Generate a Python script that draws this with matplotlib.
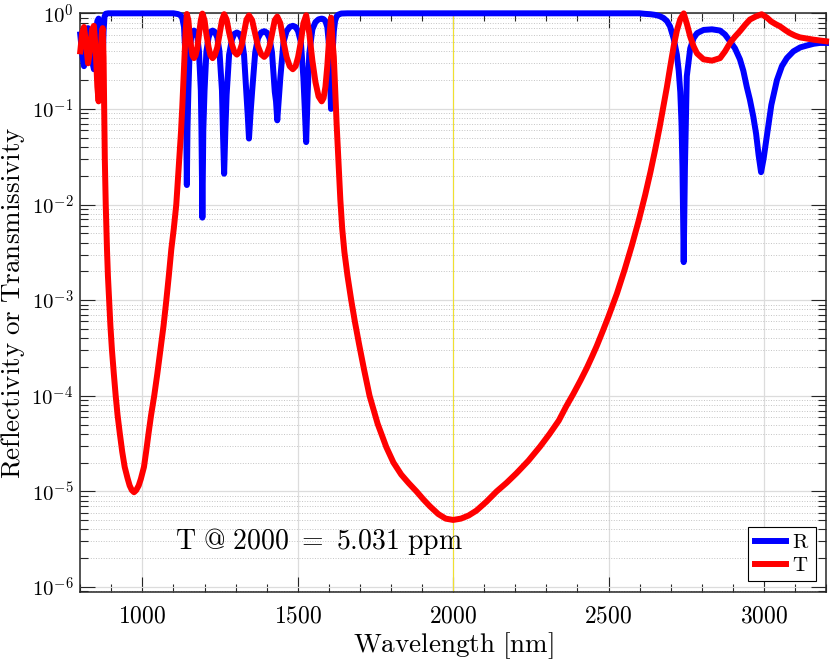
import math
import matplotlib
matplotlib.use("Agg")
import matplotlib.pyplot as plt
from matplotlib.ticker import FixedLocator, FuncFormatter, LogLocator, MultipleLocator, NullFormatter

plt.rcParams['mathtext.fontset'] = 'cm'
plt.rcParams['font.family'] = ['DejaVu Serif']

# transmissivity (wavelength in nm)
t_nm = [800, 806, 812, 818, 825, 831, 838, 844, 850, 855, 859, 864, 869, 872, 875, 877,
        879, 882, 886, 889, 893, 897, 902, 908, 914, 920, 927, 935, 943, 952, 959, 966, 973,
        980, 988, 995, 1005, 1012, 1020, 1028, 1038, 1048, 1058, 1068, 1077, 1085, 1093, 1101,
        1109, 1114, 1119, 1124, 1128, 1134, 1139, 1143,
        1148, 1152, 1157, 1161, 1166, 1171, 1177, 1182, 1188, 1193,
        1200, 1206, 1213, 1219, 1226, 1233, 1241, 1248, 1256, 1263,
        1271, 1279, 1288, 1296, 1304, 1312, 1320, 1327, 1335, 1343,
        1353, 1363, 1372, 1382, 1392, 1400, 1409, 1417, 1426, 1434,
        1444, 1454, 1464, 1474, 1484, 1493, 1501, 1510, 1518, 1527,
        1537, 1547, 1557, 1567, 1577, 1583, 1589, 1595, 1601, 1607,
        1612, 1616, 1620, 1625, 1630, 1637, 1643, 1650, 1660, 1672, 1684, 1697, 1713, 1731, 1757,
        1785, 1808, 1833, 1857, 1882, 1905, 1925, 1952, 1976, 2000, 2025, 2050, 2075, 2107,
        2140, 2172, 2204, 2242, 2280, 2310, 2340, 2364, 2387, 2410, 2430, 2447, 2462, 2482,
        2500, 2527, 2552, 2575, 2597, 2618, 2635, 2650, 2664, 2677, 2688, 2698, 2710, 2720,
        2731, 2742, 2752, 2763, 2774, 2785, 2806, 2833, 2859, 2875, 2891, 2907, 2923, 2940,
        2955, 2975, 2993, 3010, 3024, 3038, 3052, 3068, 3084, 3100, 3116, 3138, 3160, 3180, 3200]
t_val = [0.40, 0.62, 0.72, 0.50, 0.30, 0.40, 0.68, 0.74, 0.40, 0.17, 0.12, 0.25, 0.60, 0.70, 0.35, 0.10,
         0.03, 0.01, 3.4e-3, 1.8e-3, 1e-3, 5.4e-4, 3e-4, 1.7e-4, 1e-4, 6.3e-5, 4.1e-5, 2.6e-5, 1.8e-5, 1.38e-5, 1.15e-5, 1.03e-5, 9.8e-6,
         1.03e-5, 1.15e-5, 1.35e-5, 1.8e-5, 2.6e-5, 4.1e-5, 6.3e-5, 1e-4, 1.7e-4, 3e-4, 5.4e-4, 1e-3, 1.8e-3, 3.4e-3, 5.6e-3,
         0.01, 0.018, 0.032, 0.056, 0.10, 0.28, 0.63, 0.984,
         0.844, 0.599, 0.441, 0.363, 0.34, 0.363, 0.441, 0.599, 0.844, 0.993,
         0.844, 0.599, 0.441, 0.363, 0.34, 0.363, 0.441, 0.599, 0.844, 0.979,
         0.860, 0.630, 0.473, 0.394, 0.37, 0.394, 0.473, 0.630, 0.860, 0.951,
         0.849, 0.609, 0.451, 0.373, 0.35, 0.373, 0.451, 0.609, 0.849, 0.924,
         0.786, 0.504, 0.349, 0.280, 0.26, 0.280, 0.349, 0.504, 0.786, 0.955,
         0.62, 0.32, 0.19, 0.135, 0.12, 0.13, 0.17, 0.28, 0.55, 0.90,
         0.50, 0.35, 0.17, 0.07, 0.033, 0.0112, 5.6e-3, 3.2e-3, 1.8e-3, 1e-3, 5.9e-4, 3.5e-4, 1.9e-4, 1e-4, 5.1e-5,
         2.9e-5, 2e-5, 1.5e-5, 1.22e-5, 1e-5, 8.2e-6, 7.0e-6, 5.8e-6, 5.19e-6, 5.03e-6, 5.19e-6, 5.6e-6, 6.3e-6, 7.8e-6,
         1e-5, 1.23e-5, 1.55e-5, 2.09e-5, 2.95e-5, 3.98e-5, 5.5e-5, 7.76e-5, 1.05e-4, 1.45e-4, 1.95e-4, 2.57e-4, 3.31e-4, 4.79e-4,
         6.76e-4, 1.17e-3, 2.09e-3, 3.72e-3, 6.76e-3, 0.0126, 0.0219, 0.0372, 0.063, 0.107, 0.17, 0.269, 0.457, 0.66,
         0.87, 0.9975, 0.78, 0.57, 0.45, 0.38, 0.33, 0.32, 0.34, 0.40, 0.49, 0.57, 0.65, 0.76,
         0.86, 0.93, 0.978, 0.90, 0.82, 0.77, 0.73, 0.67, 0.62, 0.585, 0.56, 0.545, 0.53, 0.52, 0.51]

# reflectivity
r_nm = [800, 806, 812, 818, 825, 831, 838, 844, 850, 855, 859, 864, 869, 872, 875, 878, 882, 890,
        1000, 1100, 1114, 1119, 1124, 1128, 1134, 1137, 1140, 1143,
        1145, 1148, 1152, 1157, 1161, 1166, 1171, 1177, 1182, 1188, 1190, 1193,
        1196, 1200, 1206, 1213, 1219, 1226, 1233, 1241, 1248, 1256, 1259, 1263,
        1267, 1271, 1279, 1288, 1296, 1304, 1312, 1320, 1327, 1335, 1339, 1343,
        1348, 1353, 1363, 1372, 1382, 1392, 1400, 1409, 1417, 1426, 1430, 1434,
        1439, 1444, 1454, 1464, 1474, 1484, 1493, 1501, 1510, 1518, 1522, 1527,
        1532, 1537, 1547, 1557, 1567, 1577, 1583, 1589, 1595, 1601, 1604, 1607,
        1610, 1616, 1620, 1625, 1630, 1640, 1660, 2000, 2600, 2618, 2635, 2650, 2664, 2677,
        2688, 2698, 2710, 2720, 2726, 2731, 2735, 2738, 2742, 2746, 2749, 2752, 2763, 2774,
        2785, 2806, 2833, 2859, 2875, 2891, 2907, 2923, 2934, 2945, 2955, 2966, 2975, 2983,
        2991, 2999, 3008, 3015, 3024, 3042, 3058, 3074, 3095, 3117, 3138, 3160, 3180, 3200]
r_val = [0.60, 0.38, 0.28, 0.50, 0.70, 0.60, 0.32, 0.26, 0.60, 0.83, 0.88, 0.75, 0.40, 0.30, 0.65, 0.92, 0.99, 1.0,
         1.0, 1.0, 0.982, 0.968, 0.944, 0.90, 0.72, 0.45, 0.15, 0.016,
         0.06, 0.156, 0.40, 0.56, 0.64, 0.66, 0.64, 0.56, 0.40, 0.156, 0.06, 0.0073,
         0.06, 0.156, 0.40, 0.56, 0.64, 0.66, 0.64, 0.56, 0.40, 0.156, 0.06, 0.021,
         0.06, 0.14, 0.37, 0.53, 0.61, 0.63, 0.61, 0.53, 0.37, 0.14, 0.085, 0.049,
         0.09, 0.151, 0.39, 0.55, 0.63, 0.65, 0.63, 0.55, 0.39, 0.151, 0.12, 0.076,
         0.13, 0.214, 0.50, 0.65, 0.72, 0.74, 0.72, 0.65, 0.50, 0.214, 0.11, 0.045,
         0.15, 0.38, 0.68, 0.81, 0.865, 0.88, 0.87, 0.83, 0.72, 0.45, 0.22, 0.10,
         0.30, 0.65, 0.83, 0.93, 0.967, 0.995, 1.0, 1.0, 1.0, 0.987, 0.978, 0.963, 0.937, 0.893,
         0.83, 0.73, 0.54, 0.37, 0.25, 0.15, 0.07, 0.025, 0.0025, 0.025, 0.07, 0.22, 0.43, 0.55,
         0.62, 0.67, 0.68, 0.66, 0.60, 0.51, 0.43, 0.33, 0.25, 0.17, 0.125, 0.083, 0.055, 0.033,
         0.0218, 0.03, 0.048, 0.07, 0.11, 0.20, 0.28, 0.34, 0.40, 0.44, 0.46, 0.48, 0.49, 0.49]

x_ticks = [1000, 1500, 2000, 2500, 3000]
mark_nm = 2000
note = r'$\mathrm{T\ @\ 2000\ =\ 5.031\ ppm}$'

fig = plt.figure(figsize=(8.3, 6.59), dpi=100)
ax = fig.add_axes([0.0967, 0.1021, 0.8985, 0.8777])

ax.axvline(mark_nm, color='#f0e030', lw=0.8, zorder=1.5)
ax.plot(r_nm, r_val, color='#0000ff', lw=4.3, clip_on=False, label=r'$\mathrm{R}$', zorder=3)
ax.plot(t_nm, t_val, color='#ff0000', lw=4.3, clip_on=False, label=r'$\mathrm{T}$', zorder=4)

ax.set_yscale('log')
ax.set_xlim(800, 3200)
ax.set_ylim(8.93e-7, 1)

ax.xaxis.set_major_locator(FixedLocator(x_ticks))
ax.xaxis.set_minor_locator(MultipleLocator(100))
ax.xaxis.set_major_formatter(FuncFormatter(lambda v, p: r'$%d$' % v))
ax.yaxis.set_major_locator(LogLocator(base=10, numticks=12))
ax.yaxis.set_minor_locator(LogLocator(base=10, subs=range(2, 10), numticks=12))
ax.yaxis.set_major_formatter(FuncFormatter(lambda v, p: r'$10^{%d}$' % round(math.log10(v))))
ax.yaxis.set_minor_formatter(NullFormatter())

ax.tick_params(which='both', direction='in', top=True, right=True, colors='#262626', width=0.8)
ax.tick_params(which='major', length=10.5)
ax.tick_params(which='minor', length=5.5)
ax.tick_params(axis='x', which='major', labelsize=17, pad=9, labelcolor='black')
ax.tick_params(axis='y', which='major', labelsize=15, pad=5, labelcolor='black')

ax.grid(which='major', color='#dcdcdc', lw=0.9)
ax.yaxis.grid(which='minor', color='#c4c4c4', lw=0.7, ls=':')
ax.set_axisbelow(True)
for s in ax.spines.values():
    s.set_linewidth(1.1)
    s.set_color('#262626')

ax.set_xlabel(r'$\mathrm{Wavelength\ [nm]}$', fontsize=19.5, va='top')
ax.xaxis.set_label_coords(0.5, -0.066)
ax.set_ylabel(r'$\mathrm{Reflectivity\ or\ Transmissivity}$', fontsize=19.5)
ax.yaxis.set_label_coords(-0.072, 0.5)

ax.text(0.127, 0.073, note, transform=ax.transAxes, fontsize=20, va='baseline', ha='left', zorder=5)

leg = ax.legend(loc='lower right', bbox_to_anchor=(0.986, 0.018), borderaxespad=0,
                fontsize=15, handlelength=1.5, handletextpad=0.3, borderpad=0.3,
                labelspacing=0.2, fancybox=False, framealpha=1, edgecolor='black')
leg.get_frame().set_linewidth(0.8)

fig.savefig('out.png', dpi=100)
